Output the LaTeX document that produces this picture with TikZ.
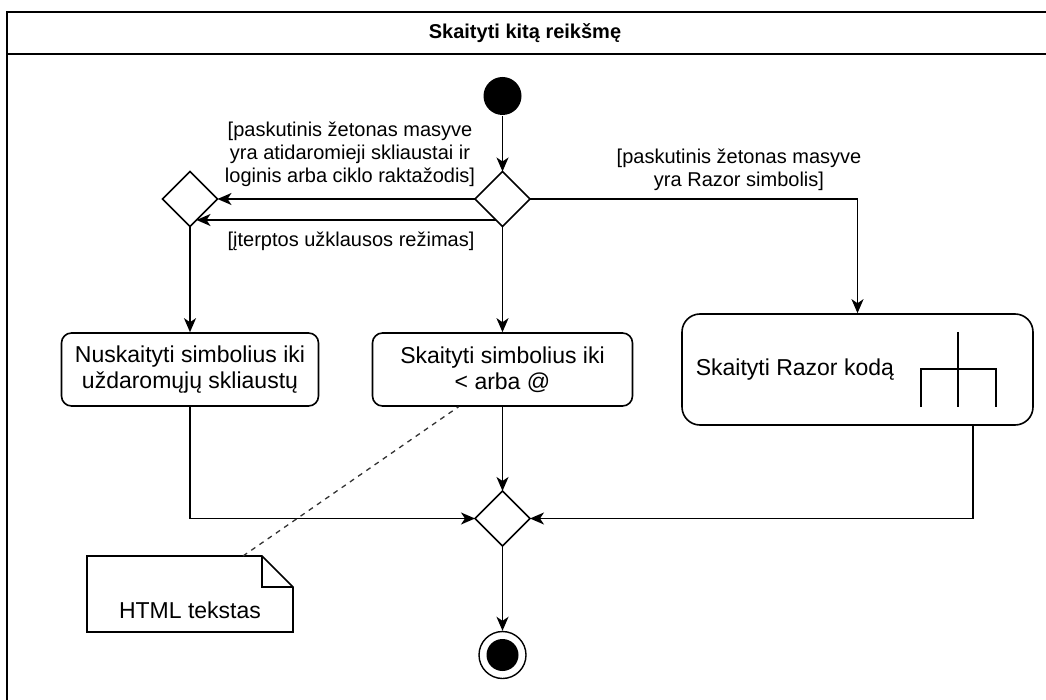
\documentclass[tikz,border=0pt]{standalone}
\usepackage{fontspec}
\setmainfont{Liberation Sans}
\usetikzlibrary{arrows.meta,shapes.geometric,calc}

\begin{document}
\begin{tikzpicture}[x=1pt,y=-1pt,
  line width=1.6pt,
  arr/.style={-{Stealth[length=14pt,width=12pt,inset=4pt]}},
  act/.style={draw, rounded corners=10pt, minimum width=257pt, minimum height=73pt,
    align=center, font=\fontsize{23}{26}\selectfont, inner sep=0pt},
  dec/.style={draw, diamond, minimum width=55pt, minimum height=55pt,
    inner sep=0pt, outer sep=0pt},
  guard/.style={align=center, font=\fontsize{20}{23}\selectfont, inner sep=0pt},
  frameline/.style={line width=1.9pt},
  anchorline/.style={line width=1.3pt, dash pattern=on 5pt off 5pt, black!80},
]
\useasboundingbox (0,0) rectangle (1046,700);

% activity frame with its title bar
\begin{scope}
  \clip (0,0) rectangle (1046,700);
  \draw[frameline] (7,12) rectangle (1070,720);
  \draw[frameline] (7,54) -- (1070,54);
\end{scope}
\node[font=\bfseries\fontsize{20}{23}\selectfont] (title) at (525,33) {Skaityti kitą reikšmę};

% control nodes
\node[circle, fill=black, minimum size=38pt, inner sep=0pt] (start) at (502.5,96) {};
\node[dec] (d1) at (502.5,199) {};
\node[dec] (dm) at (190,199) {};
\node[dec] (m) at (502.5,518.5) {};
\node[circle, draw, line width=1.4pt, minimum size=47pt, inner sep=0pt] (end) at (502.5,655) {};
\fill (end.center) circle (16pt);

% actions
\node[act] (n1) at (190,369.5) {Nuskaityti simbolius iki\\uždaromųjų skliaustų};
\node[act, minimum width=260pt] (n2) at (502.5,369.5) {Skaityti simbolius iki\\< arba @};
\node[draw, rounded corners=18pt, minimum width=351pt, minimum height=111pt,
  inner sep=0pt] (rz) at (857.5,369.5) {};
\node[anchor=west, font=\fontsize{23}{26}\selectfont, inner sep=0pt] (rzt) at (695,370) {Skaityti Razor kodą};
% call-behaviour rake
\draw (958,332) -- (958,407);
\draw (921,407) -- (921,369) -- (996,369) -- (996,407);

% note
\draw (87,556) -- (262,556) -- (293,587) -- (293,632) -- (87,632) -- cycle;
\draw (262,556) -- (262,587) -- (293,587);
\node[font=\fontsize{23}{26}\selectfont, inner sep=0pt] (notetext) at (190,610) {HTML tekstas};
\coordinate (notetop) at (243,556);

% flows
\draw[arr] (start) -- (d1.north);
\draw[arr] (d1.west) -- (dm.east);
\draw[arr] ($(d1.center)+(-6.5,21)$) -- ($(dm.center)+(6.5,21)$);
\draw[arr] (d1.east) -| (rz.north);
\draw[arr] (dm.south) -- (n1.north);
\draw[arr] (d1.south) -- (n2.north);
\draw[arr] (n2.south) -- (m.north);
\draw[arr] (n1.south) |- (m.west);
\draw[arr] ($(rz.south)+(115.5,0)$) |- (m.east);
\draw[arr] (m.south) -- (end.north);
\draw[anchorline] (notetop) -- ($(n2.south)+(-44,0)$);

% guards
\node[guard] (g1) at (350,154) {[paskutinis žetonas masyve\\yra atidaromieji skliaustai ir\\loginis arba ciklo raktažodis]};
\node[guard] (g2) at (351,241) {[įterptos užklausos režimas]};
\node[guard] (g3) at (739,170) {[paskutinis žetonas masyve\\yra Razor simbolis]};
\end{tikzpicture}
\end{document}
